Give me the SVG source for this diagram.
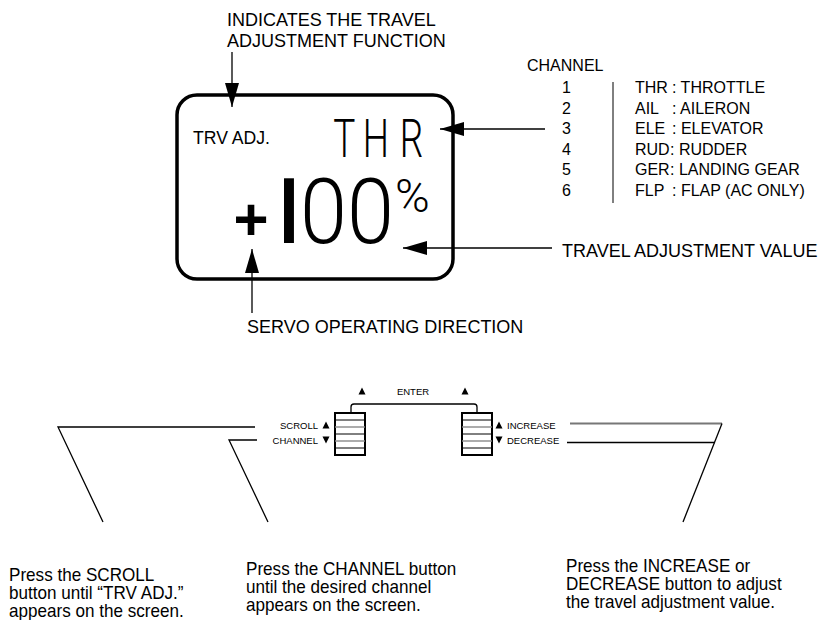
<svg xmlns="http://www.w3.org/2000/svg" width="830" height="620" viewBox="0 0 830 620">
<style>
 text{font-family:"Liberation Sans",Arial,sans-serif;fill:#000}
 .lbl{font-size:18px}
 .ch{font-size:16px}
 .sm{font-size:9.5px}
 .cap{font-size:18px}
 .ln{stroke:#000;stroke-width:1.3;fill:none}
 .ar{stroke:#000;stroke-width:1.3;fill:none;marker-end:url(#ah)}
 .btn{fill:#fff;stroke:#000;stroke-width:2}
 .bl{stroke:#000;stroke-width:1}
 .bg{stroke:#888;stroke-width:1.4}
 .big{font-family:Roboto,"Liberation Sans",sans-serif;font-weight:300}
 .bold{font-weight:700}
</style>
<defs>
 <marker id="ah" markerUnits="userSpaceOnUse" markerWidth="24" markerHeight="14" refX="24" refY="7" orient="auto"><path d="M0,0 L24,7 L0,14 z" fill="#000"/></marker>
 <path id="tri" d="M-3.5,3.5 L0,-3.5 L3.5,3.5 z" fill="#000"/>
</defs>
<rect width="830" height="620" fill="#fff"/>

<g id="label-function">
 <text class="lbl" x="227" y="26">INDICATES THE TRAVEL</text>
 <text class="lbl" x="227" y="47">ADJUSTMENT FUNCTION</text>
</g>

<g id="lcd">
 <rect x="177" y="95" width="276" height="184" rx="20" ry="20" fill="none" stroke="#000" stroke-width="3.5"/>
 <text x="193" y="144" font-size="18" textLength="77" lengthAdjust="spacingAndGlyphs">TRV ADJ.</text>
 <text class="big" font-size="53" transform="translate(334,157) scale(0.7,1)"><tspan x="-1">T</tspan><tspan x="41">H</tspan><tspan x="94">R</tspan></text>
 <text class="bold" x="251" y="240" font-size="60" text-anchor="middle">+</text>
 <text class="big bold" font-size="91" transform="translate(279,243) scale(0.75,1)">I</text>
 <text class="big" font-size="91" transform="translate(300,243) scale(0.93,1)">00</text>
 <text class="big" x="395" y="212" font-size="47">%</text>
</g>

<g id="channel-list">
 <text class="ch" x="527" y="71">CHANNEL</text>
 <text class="ch" x="562" y="93">1</text>
 <text class="ch" x="562" y="113.5">2</text>
 <text class="ch" x="562" y="134">3</text>
 <text class="ch" x="562" y="154.5">4</text>
 <text class="ch" x="562" y="175">5</text>
 <text class="ch" x="562" y="195.5">6</text>
 <line class="bl" x1="613" y1="82" x2="613" y2="203" stroke-width="1.2"/>
 <text class="ch" x="635" y="93">THR<tspan x="672">: THROTTLE</tspan></text>
 <text class="ch" x="635" y="113.5">AIL<tspan x="672">: AILERON</tspan></text>
 <text class="ch" x="635" y="134">ELE<tspan x="672">: ELEVATOR</tspan></text>
 <text class="ch" x="635" y="154.5">RUD<tspan x="670">: RUDDER</tspan></text>
 <text class="ch" x="635" y="175">GER<tspan x="670">: LANDING GEAR</tspan></text>
 <text class="ch" x="635" y="195.5">FLP<tspan x="672">: FLAP (AC ONLY)</tspan></text>
</g>

<g id="label-value">
 <text class="lbl" x="562" y="257">TRAVEL ADJUSTMENT VALUE</text>
</g>

<g id="label-direction">
 <text class="lbl" x="247" y="333">SERVO OPERATING DIRECTION</text>
</g>

<g id="button-left">
 <rect class="btn" x="335" y="413" width="30" height="42"/>
 <line class="bl" x1="335" y1="420" x2="365" y2="420"/>
 <line class="bg" x1="335" y1="427" x2="365" y2="427"/>
 <line class="bl" x1="335" y1="434" x2="365" y2="434"/>
 <line class="bg" x1="335" y1="441" x2="365" y2="441"/>
 <line class="bl" x1="335" y1="448" x2="365" y2="448"/>
 <text class="sm" x="318" y="429" text-anchor="end">SCROLL</text>
 <text class="sm" x="318" y="444" text-anchor="end">CHANNEL</text>
 <use href="#tri" x="326" y="425"/>
 <use href="#tri" transform="translate(326,440) rotate(180)"/>
</g>

<g id="button-right">
 <rect class="btn" x="462" y="413" width="30" height="42"/>
 <line class="bl" x1="462" y1="420" x2="492" y2="420"/>
 <line class="bg" x1="462" y1="427" x2="492" y2="427"/>
 <line class="bl" x1="462" y1="434" x2="492" y2="434"/>
 <line class="bg" x1="462" y1="441" x2="492" y2="441"/>
 <line class="bl" x1="462" y1="448" x2="492" y2="448"/>
 <use href="#tri" x="499" y="425"/>
 <use href="#tri" transform="translate(499,440) rotate(180)"/>
 <text class="sm" x="507" y="429">INCREASE</text>
 <text class="sm" x="507" y="444">DECREASE</text>
</g>

<g id="enter">
 <use href="#tri" x="362" y="391"/>
 <use href="#tri" x="465" y="391"/>
 <text class="sm" x="413" y="395" text-anchor="middle">ENTER</text>
</g>

<g id="caption-scroll" transform="translate(9,0) scale(0.95,1)">
 <text class="cap" x="0" y="581">Press the SCROLL</text>
 <text class="cap" x="0" y="599">button until “TRV ADJ.”</text>
 <text class="cap" x="0" y="617">appears on the screen.</text>
</g>
<g id="caption-channel" transform="translate(246,0) scale(0.95,1)">
 <text class="cap" x="0" y="575">Press the CHANNEL button</text>
 <text class="cap" x="0" y="593">until the desired channel</text>
 <text class="cap" x="0" y="611">appears on the screen.</text>
</g>
<g id="caption-value" transform="translate(566,0) scale(0.95,1)">
 <text class="cap" x="0" y="572">Press the INCREASE or</text>
 <text class="cap" x="0" y="590">DECREASE button to adjust</text>
 <text class="cap" x="0" y="608">the travel adjustment value.</text>
</g>

<g id="connectors">
 <path class="ar" d="M232,52 V107"/>
 <path class="ar" d="M545,129 H440"/>
 <path class="ar" d="M552,248 H403"/>
 <path class="ar" d="M252,313 V249"/>
 <path class="ln" d="M351,412 V407 Q351,404 354,404 H474 Q477,404 477,407 V412" stroke-width="1"/>
 <path class="ln" d="M255,427 H58 L103,522"/>
 <path class="ln" d="M257,440 H229 L268,522"/>
 <path d="M570,423.5 H722" stroke="#777" stroke-width="1.8" fill="none"/>
 <path class="ln" d="M722,423.5 L683,522"/>
 <path class="ln" d="M567,442.5 H715"/>
</g>
</svg>
